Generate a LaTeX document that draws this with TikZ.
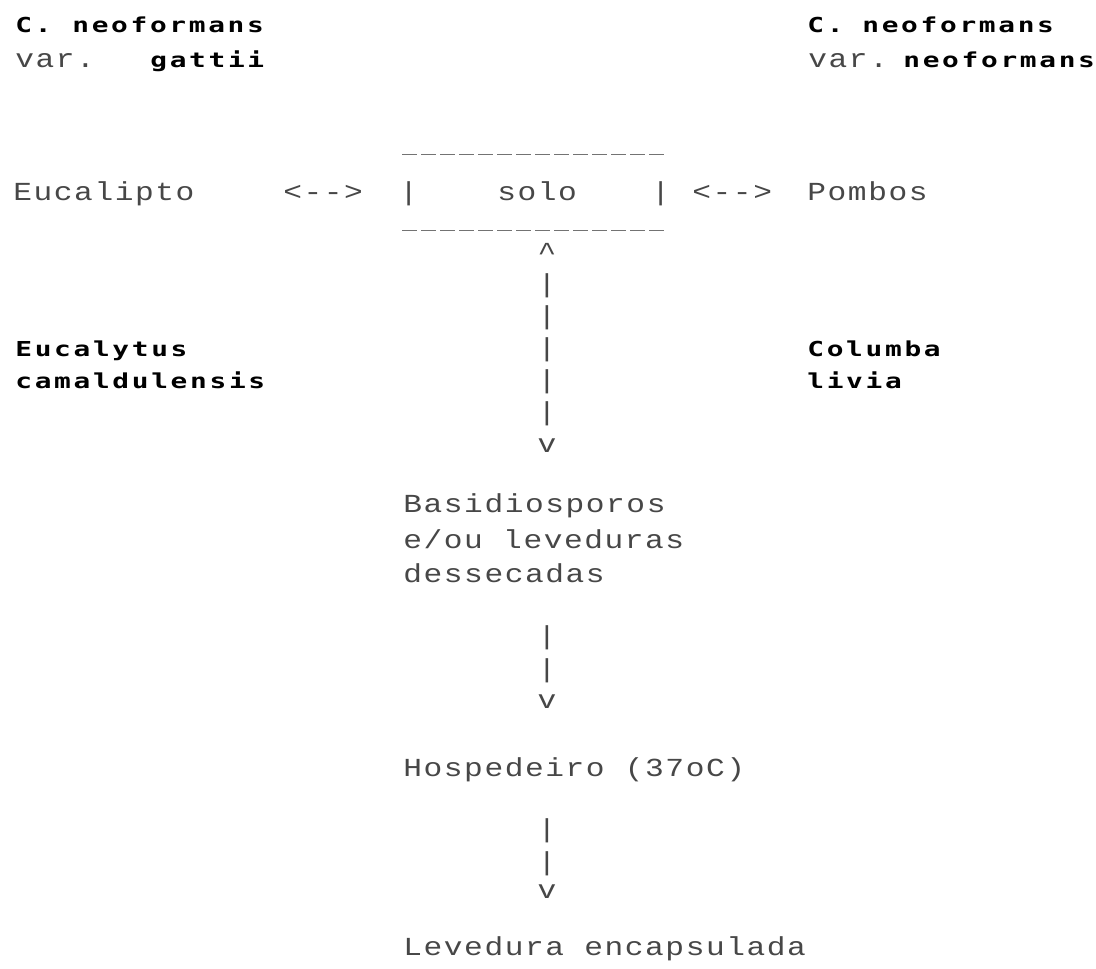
\documentclass[tikz,border=0pt]{standalone}
\usepackage{fontspec}
\newfontfamily\lightfont{Liberation Mono}[Ligatures=TeXOff,FakeStretch=1.2,LetterSpace=6]
\newfontfamily\boldfont{DejaVu Sans Mono}[Ligatures=TeXOff,FakeStretch=1.35,LetterSpace=13]

\tikzset{
  lt/.style={inner sep=0pt, anchor=base west, font=\lightfont\fontsize{13}{15}\selectfont, text=black!72},
  bd/.style={inner sep=0pt, anchor=base west, font=\boldfont\bfseries\fontsize{10.3}{12}\selectfont},
  ch/.style={inner sep=0pt, anchor=base, font=\lightfont\fontsize{13}{15}\selectfont, text=black!72},
  rule/.style={black!55, line width=0.5pt, dash pattern=on 7.5pt off 2pt}
}

\begin{document}
\begin{tikzpicture}[x=0.5pt,y=-0.5pt]
\fill[white] (0,0) rectangle (1096,968);
\useasboundingbox (0,0) rectangle (1096,968);

% heading
\node[bd] (lcn) at (15,33) {C.};
\node[bd] (lneo) at (72,33) {neoformans};
\node[lt] (lvar) at (15,68) {var.};
\node[bd] (gat) at (150,68) {gattii};
\node[bd] (rcn) at (807,33) {C.};
\node[bd] (rneo) at (862,33) {neoformans};
\node[lt] (rvar) at (808,68) {var.};
\node[bd] (rneo2) at (903,68) {neoformans};

% solo row
\coordinate (boxtl) at (402,155);
\coordinate (boxtr) at (668,155);
\coordinate (boxbl) at (402,230);
\coordinate (boxbr) at (668,230);
\draw[rule] (boxtl) -- (boxtr);
\draw[rule] (boxbl) -- (boxbr);
\node[lt] (euc) at (13,200) {Eucalipto};
\node[lt] (larr) at (283,200) {<-->};
\node[lt] (lbar) at (399,200) {|};
\node[lt] (solo) at (497,200) {solo};
\node[lt] (rbar) at (651,200) {|};
\node[lt] (rarr) at (692,200) {<-->};
\node[lt] (pomb) at (807,200) {Pombos};

% column
\node[ch] (up) at (547,260) {\textasciicircum};
\node[ch] (c1) at (547,292) {|};
\node[ch] (c2) at (547,324) {|};
\node[ch] (c3) at (547,356) {|};
\node[ch] (c4) at (547,388) {|};
\node[ch] (c5) at (547,420) {|};
\node[ch] (dn1) at (547,452) {v};

\node[bd] (euca) at (15,356) {Eucalytus};
\node[bd] (cama) at (15,388) {camaldulensis};
\node[bd] (colu) at (807,356) {Columba};
\node[bd] (livi) at (807,388) {livia};

\node[lt] (basi) at (403,512) {Basidiosporos};
\node[lt] (levs) at (403,548) {e/ou leveduras};
\node[lt] (dess) at (403,582) {dessecadas};

\node[ch] (c6) at (547,644) {|};
\node[ch] (c7) at (547,677) {|};
\node[ch] (dn2) at (547,708) {v};

\node[lt] (hosp) at (403,776) {Hospedeiro (37oC)};

\node[ch] (c8) at (547,837) {|};
\node[ch] (c9) at (547,870) {|};
\node[ch] (dn3) at (547,898) {v};

\node[lt] (leve) at (403,955) {Levedura encapsulada};
\end{tikzpicture}
\end{document}
